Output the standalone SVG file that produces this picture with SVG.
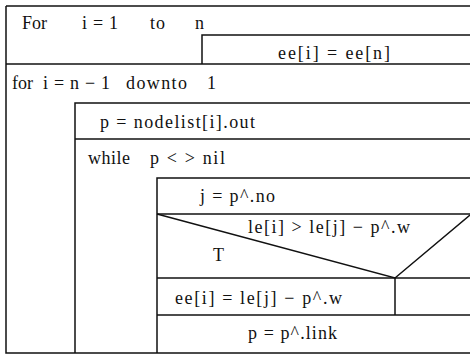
<svg xmlns="http://www.w3.org/2000/svg" width="470" height="355" viewBox="0 0 470 355">
<style>
.c path{stroke:#111;stroke-width:1.5;fill:none}
.t text{font-size:18px;fill:#111}
</style>
<rect width="470" height="355" fill="#fff"/>
<g id="connectors" class="c">
<path d="M6 6 H470"/>
<path d="M6 6 V353 H470"/>
<path d="M202 64 V35 H470"/>
<path d="M6 64 H470"/>
<path d="M75 353 V103 H470"/>
<path d="M75 139 H470"/>
<path d="M157 353 V178 H470"/>
<path d="M157 214 H470"/>
<path d="M157 214 L395 278 L470 215"/>
<path d="M157 278 H470"/>
<path d="M395 278 V315"/>
<path d="M157 315 H470"/>
</g>
<g class="t" font-family="Liberation Serif, Times New Roman, serif">
<g id="for-loop">
<text x="22" y="29" textLength="25" lengthAdjust="spacingAndGlyphs">For</text>
<text x="82" y="29" textLength="36" lengthAdjust="spacing">i = 1</text>
<text x="150" y="29" textLength="15" lengthAdjust="spacing">to</text>
<text x="195" y="29">n</text>
</g>
<g id="init"><text x="278" y="59" textLength="112" lengthAdjust="spacing">ee[i] = ee[n]</text></g>
<g id="downto-loop">
<text x="12" y="89" textLength="21" lengthAdjust="spacing">for</text>
<text x="43" y="89" textLength="67" lengthAdjust="spacing">i = n − 1</text>
<text x="126" y="89" textLength="61" lengthAdjust="spacing">downto</text>
<text x="207" y="89">1</text>
</g>
<g id="assign-p"><text x="100" y="128" textLength="155" lengthAdjust="spacing">p = nodelist[i].out</text></g>
<g id="while-loop">
<text x="88" y="164" textLength="42" lengthAdjust="spacing">while</text>
<text x="150" y="164" textLength="75" lengthAdjust="spacing">p &lt;  &gt; nil</text>
</g>
<g id="assign-j"><text x="200" y="202" textLength="75" lengthAdjust="spacing">j = p^.no</text></g>
<g id="condition">
<text x="248" y="233" textLength="162" lengthAdjust="spacing">le[i] &gt; le[j] − p^.w</text>
<text x="213" y="261">T</text>
</g>
<g id="assign-ee"><text x="175" y="304" textLength="167" lengthAdjust="spacing">ee[i] = le[j] − p^.w</text></g>
<g id="advance-p"><text x="248" y="339" textLength="89" lengthAdjust="spacing">p = p^.link</text></g>
</g>
</svg>
